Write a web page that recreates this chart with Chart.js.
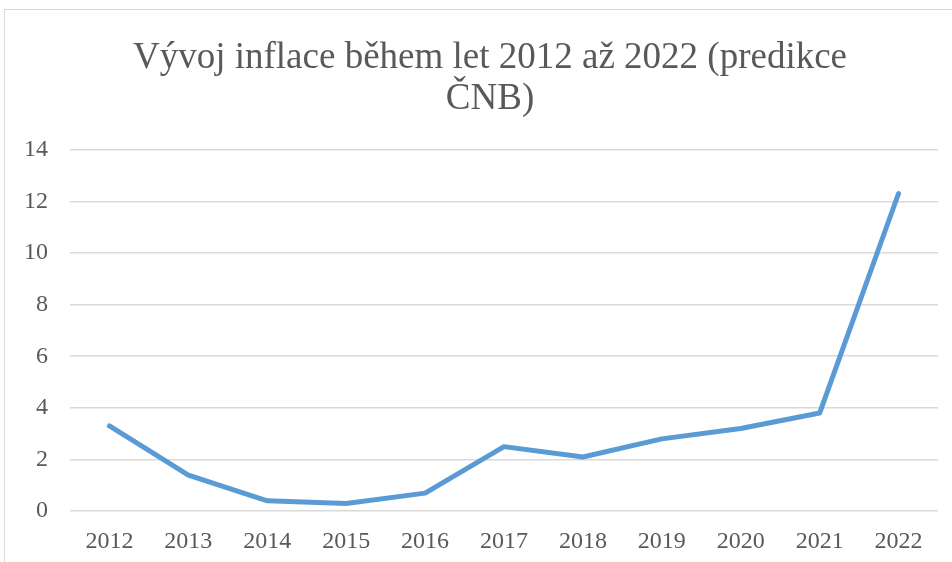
<html>
<head>
    <meta charset="utf-8">
    <script src="https://cdn.jsdelivr.net/npm/chart.js"></script>
    <style>
        body { margin: 0; background: #fff; overflow: hidden; }
        .ramecek {
            position: absolute; left: 4px; top: 9px;
            width: 970px; height: 580px;
            border-top: 1px solid #d9d9d9; border-left: 1px solid #d9d9d9;
        }
    </style>
    <title>Vývoj inflace</title>
</head>
<body>
    <div class="ramecek">
        <canvas id="graf" width="970" height="580"></canvas>
    </div>
    <script>
        // data z grafu
        var roky = ['2012', '2013', '2014', '2015', '2016', '2017', '2018', '2019', '2020', '2021', '2022'];
        var inflace = [3.3, 1.4, 0.4, 0.3, 0.7, 2.5, 2.1, 2.8, 3.2, 3.8, 12.3];
        var nadpis = ['Vývoj inflace během let 2012 až 2022 (predikce', 'ČNB)'];
        var osaY = { min: 0, max: 14, krok: 2 };

        var pismo = '"Liberation Serif", "Times New Roman", serif';
        var seda = '#595959';

        var ctx = document.getElementById('graf').getContext('2d');
        var graf = new Chart(ctx, {
            type: 'line',
            data: {
                labels: roky,
                datasets: [{
                    label: 'Inflace',
                    data: inflace,
                    borderColor: '#5B9BD5',
                    backgroundColor: '#5B9BD5',
                    borderWidth: 5,
                    borderCapStyle: 'round',
                    borderJoinStyle: 'round',
                    pointRadius: 0,
                    tension: 0
                }]
            },
            options: {
                responsive: false,
                animation: false,
                layout: { padding: { left: 0, right: 0, top: 0, bottom: 18 } },
                plugins: {
                    legend: { display: false },
                    tooltip: { enabled: false },
                    title: {
                        display: true,
                        text: nadpis,
                        color: seda,
                        font: { family: pismo, size: 37, weight: 'normal', lineHeight: 1.13 },
                        padding: { top: 27, bottom: 29 }
                    }
                },
                scales: {
                    x: {
                        offset: true,
                        grid: { display: false, drawTicks: false },
                        border: { display: false },
                        ticks: { color: seda, font: { family: pismo, size: 24 }, padding: 16, maxRotation: 0 }
                    },
                    y: {
                        min: osaY.min,
                        max: osaY.max,
                        grid: { color: '#d9d9d9', lineWidth: 1.5, drawTicks: false },
                        border: { display: false },
                        ticks: { stepSize: osaY.krok, color: seda, font: { family: pismo, size: 24 }, padding: 22 },
                        afterFit: function (scale) { scale.width = 65; }
                    },
                    // prazdne misto vpravo, aby nadpis zustal na stredu celeho ramecku
                    vpravo: {
                        position: 'right',
                        grid: { display: false, drawTicks: false },
                        border: { display: false },
                        ticks: { display: false },
                        afterFit: function (scale) { scale.width = 37; }
                    }
                }
            }
        });
    </script>
</body>
</html>
